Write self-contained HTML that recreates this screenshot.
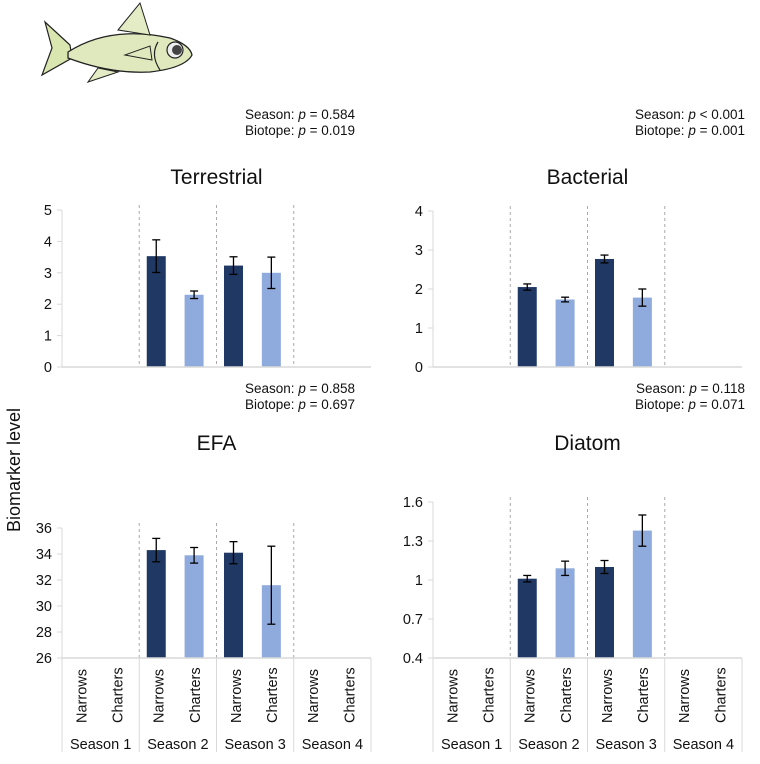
<!DOCTYPE html>
<html><head><meta charset="utf-8"><style>
body{margin:0;background:#fff;font-family:"Liberation Sans",sans-serif;}
svg text{font-family:"Liberation Sans",sans-serif;fill:#111;}
</style></head><body>
<svg id="chart" width="760" height="759" viewBox="0 0 760 759" xmlns="http://www.w3.org/2000/svg">
<g>
<path d="M70,45 L45,22 L52,48 L42,75 L72,58 Z" fill="#d9e6b0" stroke="#222" stroke-width="1.2"/>
<path d="M68,52 Q110,25 170,38 Q190,45 192,55 Q185,68 150,72 Q110,74 68,58 Z" fill="#dfe9bd" stroke="#222" stroke-width="1.3"/>
<path d="M118,30 L140,3 L150,35 Z" fill="#e3ecc4" stroke="#222" stroke-width="1"/>
<path d="M98,68 L88,82 L118,72 Z" fill="#e3ecc4" stroke="#222" stroke-width="1"/>
<path d="M125,55 L150,46 L152,60 Z" fill="#dfe9bd" stroke="#222" stroke-width="1"/>
<circle cx="175" cy="50" r="8" fill="#eee" stroke="#222" stroke-width="1.2"/>
<circle cx="177" cy="50" r="5" fill="#444"/>
<path d="M158,42 Q150,55 160,70" fill="none" stroke="#222" stroke-width="1.2"/>
</g>
<text x="355" y="119" text-anchor="end" font-size="13.5">Season: <tspan font-style="italic">p</tspan> = 0.584</text>
<text x="355" y="135" text-anchor="end" font-size="13.5">Biotope: <tspan font-style="italic">p</tspan> = 0.019</text>
<text x="745" y="119" text-anchor="end" font-size="13.5">Season: <tspan font-style="italic">p</tspan> &lt; 0.001</text>
<text x="745" y="135" text-anchor="end" font-size="13.5">Biotope: <tspan font-style="italic">p</tspan> = 0.001</text>
<text x="355" y="393" text-anchor="end" font-size="13.5">Season: <tspan font-style="italic">p</tspan> = 0.858</text>
<text x="355" y="409" text-anchor="end" font-size="13.5">Biotope: <tspan font-style="italic">p</tspan> = 0.697</text>
<text x="745" y="393" text-anchor="end" font-size="13.5">Season: <tspan font-style="italic">p</tspan> = 0.118</text>
<text x="745" y="409" text-anchor="end" font-size="13.5">Biotope: <tspan font-style="italic">p</tspan> = 0.071</text>
<text transform="translate(20,470) rotate(-90)" text-anchor="middle" font-size="18">Biomarker level</text>
</svg>
<script>
const categories=["Season 1","Season 2","Season 3","Season 4"];
const biotopes=["Narrows","Charters"];
const panelTitles=["Terrestrial","Bacterial","EFA","Diatom"];
const terrestrialValues=[null,null,3.53,2.3,3.23,3.0,null,null];
const terrestrialErrors=[0,0,0.52,0.12,0.28,0.5,0,0];
const bacterialValues=[null,null,2.05,1.73,2.77,1.78,null,null];
const bacterialErrors=[0,0,0.08,0.06,0.1,0.22,0,0];
const efaValues=[null,null,34.3,33.9,34.1,31.6,null,null];
const efaErrors=[0,0,0.9,0.6,0.85,3.0,0,0];
const diatomValues=[null,null,1.01,1.09,1.10,1.38,null,null];
const diatomErrors=[0,0,0.025,0.055,0.05,0.12,0,0];
const terrestrialTicks=[0,1,2,3,4,5];
const bacterialTicks=[0,1,2,3,4];
const efaTicks=[26,28,30,32,34,36];
const diatomTicks=[0.4,0.7,1,1.3,1.6];
const tickLabelsDiatom=["0.4","0.7","1","1.3","1.6"];

const NS="http://www.w3.org/2000/svg";
const svg=document.getElementById('chart');
function mk(tag,attrs,parent){const e=document.createElementNS(NS,tag);for(const k in attrs)e.setAttribute(k,attrs[k]);(parent||svg).appendChild(e);return e;}

const panels=[
 {key:"terrestrial",title:panelTitles[0],vals:terrestrialValues,errs:terrestrialErrors,ticks:terrestrialTicks,labels:terrestrialTicks.map(String),x0:62,x1:371,yTop:210,yBot:367,titleY:184,cats:false},
 {key:"bacterial",title:panelTitles[1],vals:bacterialValues,errs:bacterialErrors,ticks:bacterialTicks,labels:bacterialTicks.map(String),x0:433,x1:742,yTop:211,yBot:367,titleY:184,cats:false},
 {key:"efa",title:panelTitles[2],vals:efaValues,errs:efaErrors,ticks:efaTicks,labels:efaTicks.map(String),x0:62,x1:371,yTop:528,yBot:658,titleY:450,cats:true},
 {key:"diatom",title:panelTitles[3],vals:diatomValues,errs:diatomErrors,ticks:diatomTicks,labels:tickLabelsDiatom,x0:433,x1:742,yTop:502,yBot:658,titleY:450,cats:true}
];
panels.forEach(p=>{
 const g=mk('g',{});
 
 
 const tmin=p.ticks[0],tmax=p.ticks[p.ticks.length-1];
 const y=v=>p.yBot-(v-tmin)/(tmax-tmin)*(p.yBot-p.yTop);
 const gw=(p.x1-p.x0)/categories.length;
 const t=mk('text',{x:(p.x0+p.x1)/2,y:p.titleY,'text-anchor':'middle','font-size':21},g);
 t.textContent=p.title;
 
 
 p.ticks.forEach((tv,i)=>{
  mk('line',{x1:p.x0-5,x2:p.x0,y1:y(tv),y2:y(tv),stroke:'#d9d9d9'},g);
  const tl=mk('text',{x:p.x0-10,y:y(tv)+5,'text-anchor':'end','font-size':14.5},g);
  tl.textContent=p.labels[i];
  
  
 });
 mk('line',{x1:p.x0,x2:p.x0,y1:p.yTop,y2:p.yBot,stroke:'#d9d9d9'},g);
 for(let i=1;i<categories.length;i++){
  mk('line',{x1:p.x0+gw*i,x2:p.x0+gw*i,y1:p.yTop-5,y2:p.yBot,stroke:'#aaa','stroke-dasharray':'3,3'},g);
 }
 p.vals.forEach((v,i)=>{
  if(v==null)return;
  const ci=Math.floor(i/2),bi=i%2;
  const cx=p.x0+gw*ci+gw*(bi===0?0.22:0.71);
  const r=mk('rect',{x:cx-9.5,y:y(v),width:19,height:p.yBot-y(v),fill:bi===0?'#203864':'#8faadc'},g);
  
  
  const e=p.errs[i];
  const eb=mk('g',{stroke:'#000','stroke-width':1.3},g);
  
  
  mk('line',{x1:cx,x2:cx,y1:y(v+e),y2:y(v-e)},eb);
  mk('line',{x1:cx-4,x2:cx+4,y1:y(v+e),y2:y(v+e)},eb);
  mk('line',{x1:cx-4,x2:cx+4,y1:y(v-e),y2:y(v-e)},eb);
 });
 mk('line',{x1:p.x0,x2:p.x1,y1:p.yBot,y2:p.yBot,stroke:'#d9d9d9','stroke-width':1.5},g);
 if(p.cats){
  for(let i=0;i<=categories.length;i++){
   mk('line',{x1:p.x0+gw*i,x2:p.x0+gw*i,y1:p.yBot,y2:752,stroke:'#d9d9d9'},g);
  }
  categories.forEach((c,ci)=>{
   biotopes.forEach((b,bi)=>{
    const cx=p.x0+gw*ci+gw*(bi===0?0.25:0.72);
    const bt=mk('text',{transform:'translate('+(cx+5)+',723) rotate(-90)','font-size':14.5},g);
    bt.textContent=b;
    
    
   });
   const st=mk('text',{x:p.x0+gw*(ci+0.5),y:749,'text-anchor':'middle','font-size':14.5},g);
   st.textContent=c;
   
   
  });
 }
});
</script>
</body></html>
